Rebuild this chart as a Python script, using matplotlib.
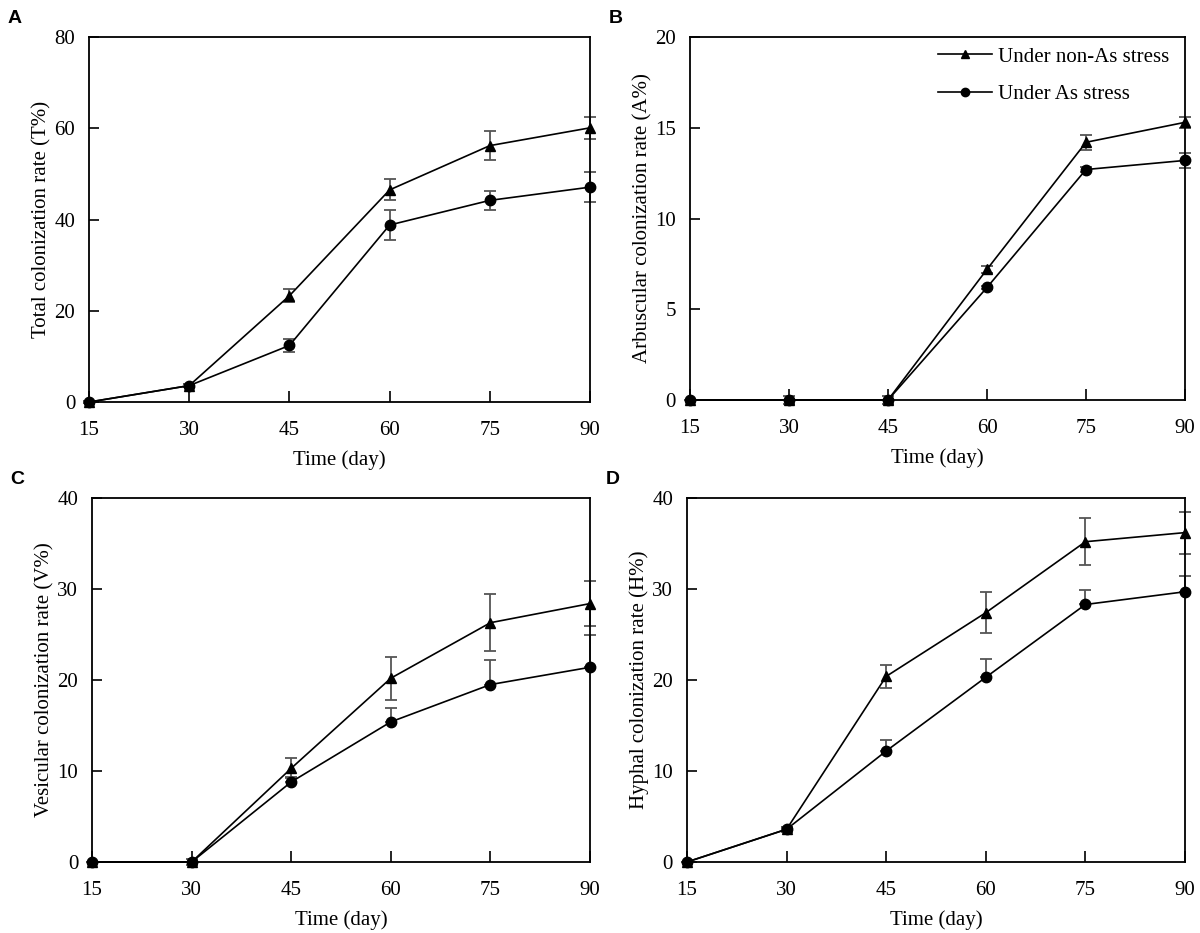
import matplotlib
matplotlib.use('Agg')
import matplotlib.pyplot as plt
import numpy as np

plt.rcParams['font.family'] = 'Liberation Serif'
plt.rcParams['font.size'] = 15

# ---------------- data ----------------
days = [15, 30, 45, 60, 75, 90]

# A: total colonization (T%)
total_non = [0, 3.6, 23.3, 46.5, 56.2, 60.1]
total_non_err = [0.2, 0.3, 1.4, 2.3, 3.2, 2.4]
total_as = [0, 3.6, 12.4, 38.8, 44.2, 47.1]
total_as_err = [0.2, 0.3, 1.5, 3.3, 2.1, 3.3]

# B: arbuscular colonization (A%)
arb_non = [0, 0, 0, 7.2, 14.2, 15.3]
arb_non_err = [0, 0.2, 0.2, 0.2, 0.4, 0.3]
arb_as = [0, 0, 0, 6.2, 12.7, 13.2]
arb_as_err = [0, 0, 0, 0.1, 0.15, 0.4]

# C: vesicular colonization (V%)
ves_non = [0, 0, 10.3, 20.2, 26.3, 28.4]
ves_non_err = [0, 0.3, 1.1, 2.35, 3.1, 2.45]
ves_as = [0, 0, 8.8, 15.4, 19.5, 21.4]
ves_as_err = [0, 0, 0.5, 1.5, 2.7, 3.5]

# D: hyphal colonization (H%)
hyp_non = [0, 3.6, 20.4, 27.4, 35.2, 36.2]
hyp_non_err = [0, 0.3, 1.25, 2.25, 2.6, 2.3]
hyp_as = [0, 3.6, 12.2, 20.3, 28.3, 29.7]
hyp_as_err = [0, 0.3, 1.25, 2.05, 1.6, 1.7]

# (letter, y label, series..., y max, y step, upper-only error for As series, axes rect)
panels = [
    ('A', 'Total colonization rate (T%)', total_non, total_non_err, total_as, total_as_err, 80, 20, False,
     [0.0742, 0.5691, 0.4175, 0.3912]),
    ('B', 'Arbuscular colonization rate (A%)', arb_non, arb_non_err, arb_as, arb_as_err, 20, 5, False,
     [0.575, 0.5713, 0.4125, 0.389]),
    ('C', 'Vesicular colonization rate (V%)', ves_non, ves_non_err, ves_as, ves_as_err, 40, 10, True,
     [0.0767, 0.0761, 0.415, 0.3901]),
    ('D', 'Hyphal colonization rate (H%)', hyp_non, hyp_non_err, hyp_as, hyp_as_err, 40, 10, True,
     [0.5725, 0.0761, 0.415, 0.3901]),
]

fig = plt.figure(figsize=(12, 9.33), dpi=100)

for letter, ylabel, non, non_err, as_, as_err, ymax, ystep, up_only, pos in panels:
    ax = fig.add_axes(pos)
    err_kw = dict(fmt='none', ecolor='#555555', elinewidth=1.3, capsize=4, capthick=1.3, zorder=2)
    ax.errorbar(days, non, yerr=non_err, **err_kw)
    if up_only:
        ax.errorbar(days, as_, yerr=[np.zeros(len(as_err)), as_err], **err_kw)
    else:
        ax.errorbar(days, as_, yerr=as_err, **err_kw)
    ax.plot(days, non, color='black', marker='^', markersize=7, linewidth=1.2,
            label='Under non-As stress', zorder=3)
    ax.plot(days, as_, color='black', marker='o', markersize=7.5, linewidth=1.2,
            label='Under As stress', zorder=3)
    ax.set_xlim(15, 90)
    ax.set_ylim(0, ymax)
    ax.set_xticks(days)
    ax.set_yticks(np.arange(0, ymax + 1, ystep))
    ax.tick_params(axis='x', direction='in', length=8, width=1.2, pad=14)
    ax.tick_params(axis='y', direction='in', length=7, width=1.2, pad=10)
    for s in ax.spines.values():
        s.set_linewidth(1.3)
    for c in ax.get_children():
        if hasattr(c, 'set_clip_on'):
            c.set_clip_on(False)
    ax.set_xlabel('Time (day)', labelpad=7)
    ax.set_ylabel(ylabel, labelpad=2)
    fig.text(pos[0] - 0.068, pos[1] + pos[3] + 0.02, letter, family='Liberation Sans',
             fontweight='bold', fontsize=14, ha='left', va='center')
    if letter == 'B':
        ax.legend(loc='upper right', frameon=False, fontsize=15, handlelength=2.6,
                  handletextpad=0.3, labelspacing=0.85, markerscale=0.8,
                  borderaxespad=0.0, bbox_to_anchor=(0.985, 0.995))

plt.savefig('out.png', dpi=100)
